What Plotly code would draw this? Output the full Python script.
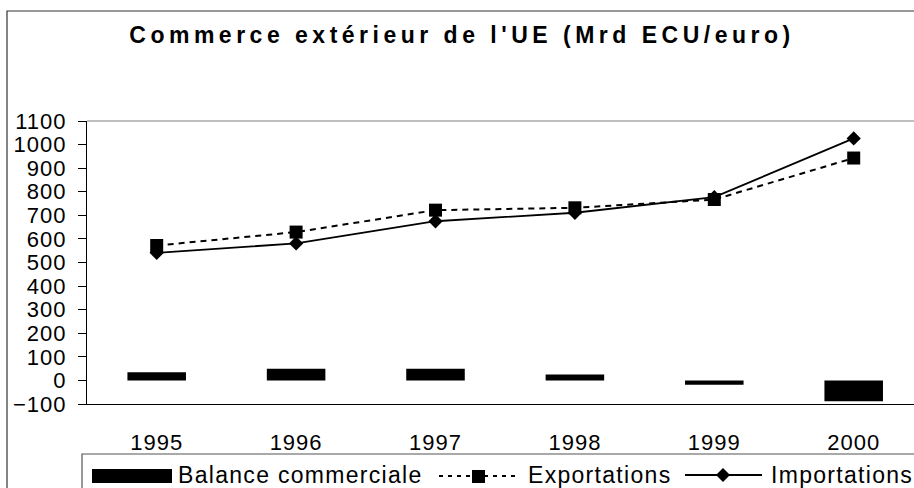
import plotly.graph_objects as go

# ---- data ----
years = ["1995", "1996", "1997", "1998", "1999", "2000"]
balance = [35, 50, 50, 25, -18, -88]          # Balance commerciale
exports = [572, 629, 722, 732, 767, 943]      # Exportations
imports = [541, 581, 675, 711, 777, 1026]     # Importations
y_ticks = list(range(-100, 1101, 100))

title_text = "Commerce extérieur de l'UE (Mrd ECU/euro)"
legend_labels = ["Balance commerciale", "Exportations", "Importations"]

# ---- layout geometry (pixels) ----
W, H = 914, 488
L, R, T, B = 87, 0, 121, 84
PW, PH = W - L - R, H - T - B
FONT = "Liberation Sans, Arial, Helvetica, sans-serif"


def px_x(x):
    return (x - L) / PW


def px_y(y):
    return (H - B - y) / PH


fig = go.Figure()
fig.add_trace(go.Bar(x=years, y=balance, name=legend_labels[0], width=0.42,
                     marker=dict(color="black", line=dict(width=0))))
fig.add_trace(go.Scatter(x=years, y=exports, name=legend_labels[1], mode="lines+markers",
                         line=dict(color="black", width=2, dash="6px,5px"),
                         marker=dict(symbol="square", size=13, color="black")))
fig.add_trace(go.Scatter(x=years, y=imports, name=legend_labels[2], mode="lines+markers",
                         line=dict(color="black", width=1.8),
                         marker=dict(symbol="diamond", size=11, color="black")))

n = len(years)
x_range = [-0.5, -0.5 + PW / 139.4]

shapes = [
    # outer chart frame
    dict(type="rect", xref="paper", yref="paper", x0=px_x(7), x1=px_x(W + 50),
         y0=px_y(H + 50), y1=px_y(11), line=dict(color="#333333", width=1.2)),
    # top border of plot area
    dict(type="line", xref="paper", yref="paper", x0=0, x1=1, y0=1, y1=1,
         line=dict(color="#808080", width=1.2)),
    # legend box
    dict(type="rect", xref="paper", yref="paper", x0=px_x(82), x1=px_x(W + 50),
         y0=px_y(H + 50), y1=px_y(454), line=dict(color="#555555", width=1.2)),
    # legend swatch: bar
    dict(type="rect", xref="paper", yref="paper", x0=px_x(92), x1=px_x(172),
         y0=px_y(483), y1=px_y(469), fillcolor="black", line=dict(width=0)),
    # legend swatch: exports dashed line + square
    dict(type="line", xref="paper", yref="paper", x0=px_x(439), x1=px_x(515),
         y0=px_y(476), y1=px_y(476), line=dict(color="black", width=2, dash="4px,5px")),
    dict(type="rect", xref="paper", yref="paper", x0=px_x(472), x1=px_x(485),
         y0=px_y(483), y1=px_y(470), fillcolor="black", line=dict(width=0)),
    # legend swatch: imports solid line + diamond
    dict(type="line", xref="paper", yref="paper", x0=px_x(685), x1=px_x(762),
         y0=px_y(475), y1=px_y(475), line=dict(color="black", width=1.8)),
    dict(type="path", xref="paper", yref="paper",
         path="M {a},{b} L {c},{d} L {e},{b} L {c},{f} Z".format(
             a=px_x(716), b=px_y(475), c=px_x(723), d=px_y(468), e=px_x(730), f=px_y(482)),
         fillcolor="black", line=dict(width=0)),
]

annotations = [
    dict(xref="paper", yref="paper", x=px_x(x0), y=px_y(475), xanchor="left", yanchor="middle",
         align="left", text=t, showarrow=False, borderpad=0,
         font=dict(family=FONT, size=23, color="black"))
    for x0, t in zip([177, 527, 770], legend_labels)
]

fig.update_layout(
    width=W, height=H,
    margin=dict(l=L, r=R, t=T, b=B, pad=0),
    paper_bgcolor="white", plot_bgcolor="white",
    showlegend=False,
    bargap=0.58,
    title=dict(text=title_text, x=462 / W, xref="container", xanchor="center",
               y=1 - 35 / H, yref="container", yanchor="middle",
               font=dict(family=FONT, size=23, color="black", weight="bold")),
    xaxis=dict(type="category", categoryorder="array", categoryarray=years,
               range=x_range, showgrid=False, zeroline=False,
               showline=True, linecolor="black", linewidth=1.2,
               ticks="", ticklabelstandoff=18,
               tickfont=dict(family=FONT, size=22, color="black")),
    xaxis2=dict(overlaying="x", anchor="free", position=(0 - y_ticks[0]) / (y_ticks[-1] - y_ticks[0]),
                type="linear", range=x_range, showgrid=False, zeroline=False,
                showline=True, linecolor="#555555", linewidth=1.2,
                ticks="outside", ticklen=7, tickcolor="black", tickwidth=1,
                tickmode="array", tickvals=[i + 0.5 for i in range(n - 1)],
                showticklabels=False),
    yaxis=dict(range=[y_ticks[0], y_ticks[-1]], tickmode="array", tickvals=y_ticks,
               showgrid=False, zeroline=False,
               showline=True, linecolor="black", linewidth=1.2,
               ticks="outside", ticklen=8, tickcolor="black", tickwidth=1,
               ticklabelstandoff=7,
               tickfont=dict(family=FONT, size=22, color="black")),
    shapes=shapes,
    annotations=annotations,
)

post = (
    "document.body.style.margin='0';"
    "document.body.style.overflow='hidden';"
    "var gd=document.getElementsByClassName('plotly-graph-div')[0];"
    "gd.querySelectorAll('text').forEach(function(t){t.style.letterSpacing='1px';});"
    "gd.querySelectorAll('.annotation-text').forEach(function(t){t.style.letterSpacing='1.3px';});"
    "gd.querySelectorAll('.gtitle').forEach(function(t){t.style.letterSpacing='4.5px';});"
)

fig.write_html("out.html", post_script=post, config={"displayModeBar": False})
